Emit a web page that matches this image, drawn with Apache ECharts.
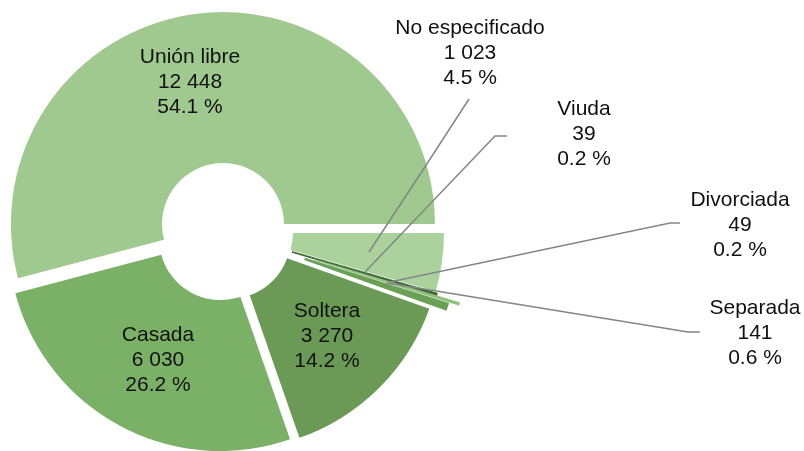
<!DOCTYPE html>
<html>
<head>
<meta charset="utf-8">
<script src="https://cdn.jsdelivr.net/npm/echarts@6/dist/echarts.min.js"></script>
<style>
  html, body { margin: 0; background: #fff; }
  #chart { width: 804px; height: 451px; }
</style>
</head>
<body>
<div id="chart"></div>
<script>
  // slices clockwise from 3 o'clock
  const categories = ['No especificado', 'Viuda', 'Divorciada', 'Separada', 'Soltera', 'Casada', 'Unión libre'];
  const values = [1023, 39, 49, 141, 3270, 6030, 12448];
  const percents = ['4.5', '0.2', '0.2', '0.6', '14.2', '26.2', '54.1'];

  const colors = ['#abd29c', '#3d6633', '#8fbf7c', '#6a9f56', '#6a9a56', '#7bb166', '#9fc98f'];
  // how far each slice is pulled out
  const explode = [8, 10, 34, 24, 8, 8, 8];
  // thin slices get an outline of their own colour so they stay visible
  const outline = [0, 1, 0.5, 0, 0, 0, 0];
  // label block centres and leader lines (layout only)
  const labelPos = [[470, 53], [584, 134], [740, 225], [755, 333], [327, 336], [158, 360], [190, 82]];
  const leaders = [
    [[369, 252], [419, 176], [469, 99]],
    [[365, 272], [495, 136], [507, 136]],
    [[390, 282], [670, 223], [680, 223]],
    [[387, 283], [688, 332], [700, 332]],
    null, null, null
  ];

  function fmt(v) {
    return String(v).replace(/\B(?=(\d{3})+(?!\d))/g, ' ');
  }

  const pieBase = {
    type: 'pie',
    center: [224, 232],
    radius: [61, 212],
    startAngle: 0,
    clockwise: true,
    avoidLabelOverlap: false,
    emphasis: { disabled: true }
  };

  const series = [];
  // one pie per explosion distance, the other slices left transparent
  [...new Set(explode)].forEach(off => {
    series.push(Object.assign({}, pieBase, {
      selectedMode: 'multiple',
      selectedOffset: off,
      label: { show: false },
      labelLine: { show: false },
      data: categories.map((name, i) => {
        const on = explode[i] === off;
        return {
          name: name,
          value: values[i],
          selected: true,
          itemStyle: {
            color: on ? colors[i] : 'rgba(0,0,0,0)',
            borderColor: on ? colors[i] : 'rgba(0,0,0,0)',
            borderWidth: on ? outline[i] : 0
          }
        };
      })
    }));
  });

  // labels and leader lines
  series.push(Object.assign({}, pieBase, {
    z: 5,
    silent: true,
    itemStyle: { color: 'rgba(0,0,0,0)' },
    label: {
      color: '#111',
      fontFamily: 'Liberation Sans, Arial, sans-serif',
      fontSize: 21,
      lineHeight: 25,
      align: 'center',
      formatter: p => p.name + '\n' + fmt(p.value) + '\n' + percents[p.dataIndex] + ' %'
    },
    labelLine: {
      show: true,
      lineStyle: { color: '#858585', width: 1.5 }
    },
    labelLayout: p => {
      const pos = labelPos[p.dataIndex];
      const out = { x: pos[0], y: pos[1], align: 'center', verticalAlign: 'middle' };
      if (leaders[p.dataIndex]) out.labelLinePoints = leaders[p.dataIndex];
      return out;
    },
    data: categories.map((name, i) => ({
      name: name,
      value: values[i],
      labelLine: { show: !!leaders[i] }
    }))
  }));

  const chart = echarts.init(document.getElementById('chart'));
  chart.setOption({ animation: false, series: series });
</script>
</body>
</html>
